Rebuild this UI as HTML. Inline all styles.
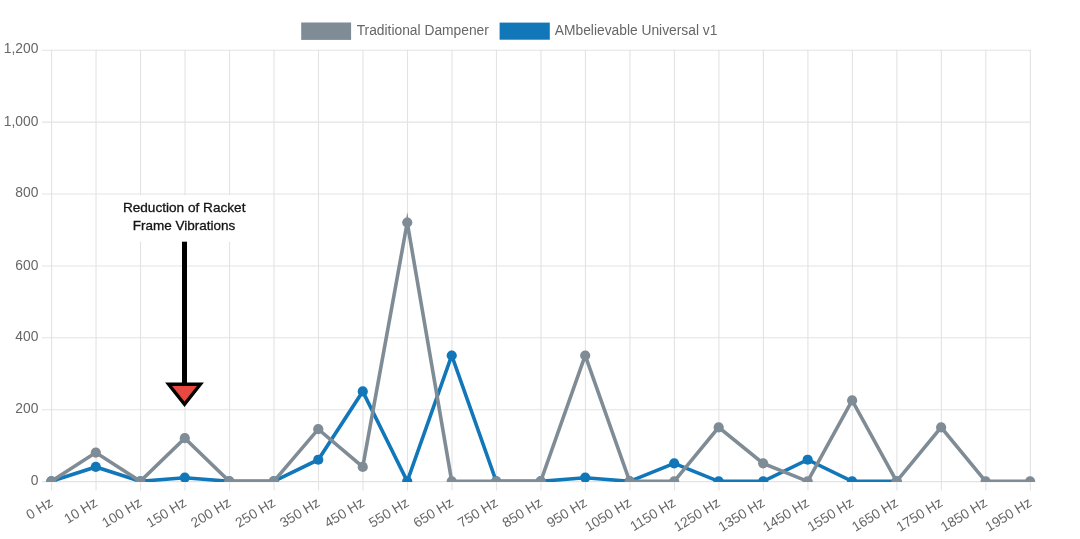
<!DOCTYPE html>
<html><head><meta charset="utf-8"><title>Chart</title>
<style>
html,body{margin:0;padding:0;background:#fff;width:1080px;height:539px;overflow:hidden}
svg{position:absolute;left:0;top:0;display:block}
#w{position:absolute;left:0;top:0;width:1080px;height:539px;background:#fff;will-change:transform}
.g{stroke:#e3e3e3;stroke-width:1.1;fill:none}
.t{font-family:"Liberation Sans",Arial,sans-serif;font-size:13.8px;fill:#666}
</style></head><body><div id="w">
<svg width="1080" height="539" viewBox="0 0 1080 539">
<defs><clipPath id="c"><rect x="0" y="0" width="1080" height="482.0"/></clipPath></defs>
<rect width="1080" height="539" fill="#fff"/>
<g><line x1="42" y1="481.6" x2="1030.95" y2="481.6" class="g"/>
<line x1="42" y1="409.71" x2="1030.95" y2="409.71" class="g"/>
<line x1="42" y1="337.82" x2="1030.95" y2="337.82" class="g"/>
<line x1="42" y1="265.93" x2="1030.95" y2="265.93" class="g"/>
<line x1="42" y1="194.04" x2="1030.95" y2="194.04" class="g"/>
<line x1="42" y1="122.15" x2="1030.95" y2="122.15" class="g"/>
<line x1="42" y1="50.26" x2="1030.95" y2="50.26" class="g"/>
<line x1="51.57" y1="49.66" x2="51.57" y2="490.6" class="g"/>
<line x1="96.06" y1="49.66" x2="96.06" y2="490.6" class="g"/>
<line x1="140.55" y1="49.66" x2="140.55" y2="490.6" class="g"/>
<line x1="185.04" y1="49.66" x2="185.04" y2="490.6" class="g"/>
<line x1="229.53" y1="49.66" x2="229.53" y2="490.6" class="g"/>
<line x1="274.02" y1="49.66" x2="274.02" y2="490.6" class="g"/>
<line x1="318.51" y1="49.66" x2="318.51" y2="490.6" class="g"/>
<line x1="363" y1="49.66" x2="363" y2="490.6" class="g"/>
<line x1="407.49" y1="49.66" x2="407.49" y2="490.6" class="g"/>
<line x1="451.98" y1="49.66" x2="451.98" y2="490.6" class="g"/>
<line x1="496.47" y1="49.66" x2="496.47" y2="490.6" class="g"/>
<line x1="540.96" y1="49.66" x2="540.96" y2="490.6" class="g"/>
<line x1="585.45" y1="49.66" x2="585.45" y2="490.6" class="g"/>
<line x1="629.94" y1="49.66" x2="629.94" y2="490.6" class="g"/>
<line x1="674.43" y1="49.66" x2="674.43" y2="490.6" class="g"/>
<line x1="718.92" y1="49.66" x2="718.92" y2="490.6" class="g"/>
<line x1="763.41" y1="49.66" x2="763.41" y2="490.6" class="g"/>
<line x1="807.9" y1="49.66" x2="807.9" y2="490.6" class="g"/>
<line x1="852.39" y1="49.66" x2="852.39" y2="490.6" class="g"/>
<line x1="896.88" y1="49.66" x2="896.88" y2="490.6" class="g"/>
<line x1="941.37" y1="49.66" x2="941.37" y2="490.6" class="g"/>
<line x1="985.86" y1="49.66" x2="985.86" y2="490.6" class="g"/>
<line x1="1030.35" y1="49.66" x2="1030.35" y2="490.6" class="g"/></g>
<g class="t">
<rect x="301.2" y="22.5" width="49.9" height="17.4" fill="#7f8c95"/>
<text x="356.7" y="34.9">Traditional Dampener</text>
<rect x="499.6" y="22.6" width="50.2" height="17.1" fill="#1177b9"/>
<text x="554.8" y="34.9">AMbelievable Universal v1</text>
<text x="38.4" y="484.9" text-anchor="end">0</text>
<text x="38.4" y="413.01" text-anchor="end">200</text>
<text x="38.4" y="341.12" text-anchor="end">400</text>
<text x="38.4" y="270.23" text-anchor="end">600</text>
<text x="38.4" y="197.34" text-anchor="end">800</text>
<text x="38.4" y="126.45" text-anchor="end">1,000</text>
<text x="38.4" y="52.56" text-anchor="end">1,200</text>
<text transform="translate(51.37,501.1) rotate(-31.5)" text-anchor="end" dy="0.35em">0 Hz</text>
<text transform="translate(95.86,501.1) rotate(-31.5)" text-anchor="end" dy="0.35em">10 Hz</text>
<text transform="translate(140.35,501.1) rotate(-31.5)" text-anchor="end" dy="0.35em">100 Hz</text>
<text transform="translate(184.84,501.1) rotate(-31.5)" text-anchor="end" dy="0.35em">150 Hz</text>
<text transform="translate(229.33,501.1) rotate(-31.5)" text-anchor="end" dy="0.35em">200 Hz</text>
<text transform="translate(273.82,501.1) rotate(-31.5)" text-anchor="end" dy="0.35em">250 Hz</text>
<text transform="translate(318.31,501.1) rotate(-31.5)" text-anchor="end" dy="0.35em">350 Hz</text>
<text transform="translate(362.8,501.1) rotate(-31.5)" text-anchor="end" dy="0.35em">450 Hz</text>
<text transform="translate(407.29,501.1) rotate(-31.5)" text-anchor="end" dy="0.35em">550 Hz</text>
<text transform="translate(451.78,501.1) rotate(-31.5)" text-anchor="end" dy="0.35em">650 Hz</text>
<text transform="translate(496.27,501.1) rotate(-31.5)" text-anchor="end" dy="0.35em">750 Hz</text>
<text transform="translate(540.76,501.1) rotate(-31.5)" text-anchor="end" dy="0.35em">850 Hz</text>
<text transform="translate(585.25,501.1) rotate(-31.5)" text-anchor="end" dy="0.35em">950 Hz</text>
<text transform="translate(629.74,501.1) rotate(-31.5)" text-anchor="end" dy="0.35em">1050 Hz</text>
<text transform="translate(674.23,501.1) rotate(-31.5)" text-anchor="end" dy="0.35em">1150 Hz</text>
<text transform="translate(718.72,501.1) rotate(-31.5)" text-anchor="end" dy="0.35em">1250 Hz</text>
<text transform="translate(763.21,501.1) rotate(-31.5)" text-anchor="end" dy="0.35em">1350 Hz</text>
<text transform="translate(807.7,501.1) rotate(-31.5)" text-anchor="end" dy="0.35em">1450 Hz</text>
<text transform="translate(852.19,501.1) rotate(-31.5)" text-anchor="end" dy="0.35em">1550 Hz</text>
<text transform="translate(896.68,501.1) rotate(-31.5)" text-anchor="end" dy="0.35em">1650 Hz</text>
<text transform="translate(941.17,501.1) rotate(-31.5)" text-anchor="end" dy="0.35em">1750 Hz</text>
<text transform="translate(985.66,501.1) rotate(-31.5)" text-anchor="end" dy="0.35em">1850 Hz</text>
<text transform="translate(1030.15,501.1) rotate(-31.5)" text-anchor="end" dy="0.35em">1950 Hz</text>
</g>
<!-- annotation box -->
<rect x="112" y="195.2" width="148" height="46.4" fill="#fff"/>
<g clip-path="url(#c)">
<polyline points="51.32,481.3 95.81,466.92 140.3,481.3 184.79,477.71 229.28,481.3 273.77,481.3 318.26,459.73 362.75,391.44 407.24,481.3 451.73,355.49 496.22,481.3 540.71,481.3 585.2,477.71 629.69,481.3 674.18,463.33 718.67,481.3 763.16,481.3 807.65,459.73 852.14,481.3 896.63,481.3" fill="none" stroke="#1177b9" stroke-width="3.6" stroke-linejoin="miter" stroke-miterlimit="10"/>
<g fill="#1177b9"><circle cx="51.32" cy="481.3" r="5.1"/>
<circle cx="95.81" cy="466.92" r="5.1"/>
<circle cx="140.3" cy="481.3" r="5.1"/>
<circle cx="184.79" cy="477.71" r="5.1"/>
<circle cx="229.28" cy="481.3" r="5.1"/>
<circle cx="273.77" cy="481.3" r="5.1"/>
<circle cx="318.26" cy="459.73" r="5.1"/>
<circle cx="362.75" cy="391.44" r="5.1"/>
<circle cx="407.24" cy="481.3" r="5.1"/>
<circle cx="451.73" cy="355.49" r="5.1"/>
<circle cx="496.22" cy="481.3" r="5.1"/>
<circle cx="540.71" cy="481.3" r="5.1"/>
<circle cx="585.2" cy="477.71" r="5.1"/>
<circle cx="629.69" cy="481.3" r="5.1"/>
<circle cx="674.18" cy="463.33" r="5.1"/>
<circle cx="718.67" cy="481.3" r="5.1"/>
<circle cx="763.16" cy="481.3" r="5.1"/>
<circle cx="807.65" cy="459.73" r="5.1"/>
<circle cx="852.14" cy="481.3" r="5.1"/>
<circle cx="896.63" cy="481.3" r="5.1"/></g>
<polyline points="51.32,481.3 95.81,452.54 140.3,481.3 184.79,438.17 229.28,481.3 273.77,481.3 318.26,429.18 362.75,466.92 407.24,222.5 451.73,481.3 496.22,481.3 540.71,481.3 585.2,355.49 629.69,481.3 674.18,481.3 718.67,427.38 763.16,463.33 807.65,481.3 852.14,400.42 896.63,481.3 941.12,427.38 985.61,481.3 1030.1,481.3" fill="none" stroke="#7f8c95" stroke-width="3.6" stroke-linejoin="miter" stroke-miterlimit="10"/>
<g fill="#7f8c95"><circle cx="51.32" cy="481.3" r="5.1"/>
<circle cx="95.81" cy="452.54" r="5.1"/>
<circle cx="140.3" cy="481.3" r="5.1"/>
<circle cx="184.79" cy="438.17" r="5.1"/>
<circle cx="229.28" cy="481.3" r="5.1"/>
<circle cx="273.77" cy="481.3" r="5.1"/>
<circle cx="318.26" cy="429.18" r="5.1"/>
<circle cx="362.75" cy="466.92" r="5.1"/>
<circle cx="407.24" cy="222.5" r="5.1"/>
<circle cx="451.73" cy="481.3" r="5.1"/>
<circle cx="496.22" cy="481.3" r="5.1"/>
<circle cx="540.71" cy="481.3" r="5.1"/>
<circle cx="585.2" cy="355.49" r="5.1"/>
<circle cx="629.69" cy="481.3" r="5.1"/>
<circle cx="674.18" cy="481.3" r="5.1"/>
<circle cx="718.67" cy="427.38" r="5.1"/>
<circle cx="763.16" cy="463.33" r="5.1"/>
<circle cx="807.65" cy="481.3" r="5.1"/>
<circle cx="852.14" cy="400.42" r="5.1"/>
<circle cx="896.63" cy="481.3" r="5.1"/>
<circle cx="941.12" cy="427.38" r="5.1"/>
<circle cx="985.61" cy="481.3" r="5.1"/>
<circle cx="1030.1" cy="481.3" r="5.1"/></g>
</g>
<g font-family="'Liberation Sans', Arial, sans-serif" font-size="12.9" fill="#141414" stroke="#141414" stroke-width="0.3">
<text x="122.9" y="211.8" textLength="122.6" lengthAdjust="spacingAndGlyphs">Reduction of Racket</text>
<text x="132.7" y="229.6" textLength="102.6" lengthAdjust="spacingAndGlyphs">Frame Vibrations</text>
</g>
<rect x="182" y="241.7" width="5" height="142" fill="#000"/>
<polygon points="168.6,384.3 200.4,384.3 184.5,404.3" fill="#e8483f" stroke="#000" stroke-width="3.4" stroke-linejoin="miter" stroke-miterlimit="10"/>
</svg></div>
</body></html>
